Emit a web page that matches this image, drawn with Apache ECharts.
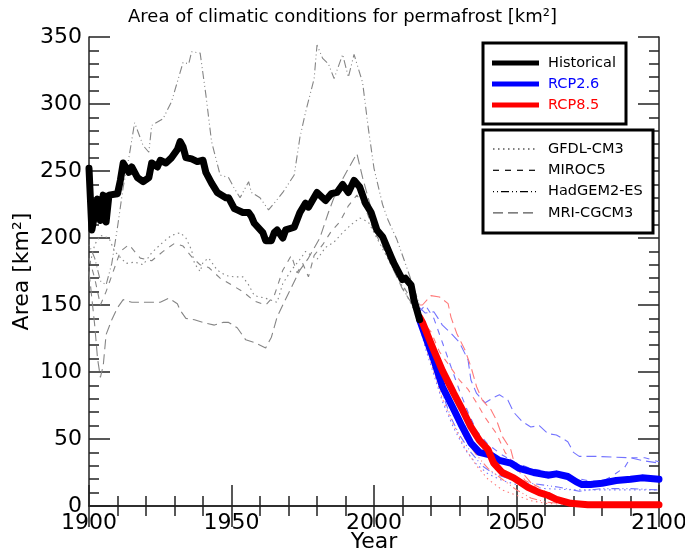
<!DOCTYPE html>
<html><head><meta charset="utf-8">
<script src="https://cdn.jsdelivr.net/npm/echarts@6/dist/echarts.min.js"></script>
<style>html,body{margin:0;padding:0;background:#fff}#c{width:685px;height:552px}</style>
</head><body><div id="c"></div>
<script>
// ---------- data ----------
const xTicks = [1900, 1950, 2000, 2050, 2100];
const yTicks = [0, 50, 100, 150, 200, 250, 300, 350];

const historical = [[1900,252],[1901,206],[1903,229],[1904,213],[1905,232],[1906,212],[1907,232],[1910,233],[1911,243],[1912,256],[1914,249],[1915,253],[1917,245],[1919,242],[1921,245],[1922,256],[1924,253],[1925,258],[1927,256],[1929,260],[1931,266],[1932,272],[1933,268],[1934,260],[1936,259],[1938,257],[1940,258],[1941,249],[1943,241],[1945,234],[1948,230],[1949,230],[1951,222],[1952,221],[1954,219],[1956,219],[1957,216],[1958,211],[1961,204],[1962,198],[1964,198],[1965,204],[1966,206],[1968,200],[1969,206],[1972,208],[1974,219],[1976,226],[1977,223],[1980,234],[1983,228],[1985,233],[1987,234],[1989,240],[1991,234],[1993,243],[1995,238],[1997,226],[1999,219],[2001,206],[2003,201],[2006,186],[2007,181],[2010,169],[2011,170],[2013,165],[2014,154],[2016,139]];
const rcp26 = [[2016,139],[2017,133],[2021,109],[2024,89],[2028,72],[2031,59],[2034,47],[2037,40],[2041,38],[2044,34],[2048,32],[2051,28],[2056,25],[2061,23],[2064,24],[2068,22],[2071,18],[2073,16],[2076,16],[2080,17],[2085,19],[2090,20],[2094,21],[2100,20]];
const rcp85 = [[2016,141],[2017,137],[2021,116],[2024,101],[2028,84],[2031,72],[2034,59],[2037,49],[2040,42],[2042,32],[2045,25],[2049,21],[2054,14],[2058,10],[2061,8],[2064,5],[2069,2],[2075,1],[2100,1]];

// model runs, historical period (grey)
const gfdlHist = [[1900,178],[1902,195],[1904,202],[1907,200],[1909,190],[1913,181],[1916,182],[1919,180],[1922,189],[1926,197],[1929,202],[1932,204],[1934,200],[1936,191],[1937,181],[1939,175],[1940,182],[1942,185],[1945,176],[1948,172],[1951,171],[1954,171],[1956,165],[1958,157],[1962,155],[1966,152],[1968,166],[1971,176],[1974,184],[1976,190],[1980,184],[1983,193],[1986,197],[1989,204],[1992,210],[1995,215],[1998,212],[2001,200],[2004,188],[2008,172],[2012,155],[2016,138]];
const mirocHist = [[1900,185],[1902,170],[1904,150],[1906,160],[1908,172],[1911,190],[1914,195],[1918,185],[1922,183],[1926,190],[1930,196],[1933,194],[1936,186],[1939,180],[1942,178],[1946,170],[1950,165],[1954,160],[1958,153],[1962,150],[1965,157],[1968,176],[1971,187],[1973,174],[1975,181],[1977,171],[1979,187],[1982,195],[1985,205],[1988,212],[1991,224],[1994,232],[1997,222],[2000,205],[2004,190],[2008,172],[2012,158],[2016,145]];
const hadgemHist = [[1900,195],[1902,185],[1904,168],[1906,165],[1908,181],[1910,208],[1912,238],[1914,260],[1916,286],[1919,269],[1921,264],[1922,284],[1926,289],[1929,302],[1933,331],[1935,330],[1936,339],[1939,338],[1941,307],[1943,272],[1946,247],[1949,245],[1951,237],[1953,230],[1956,242],[1957,234],[1960,230],[1963,221],[1965,226],[1968,234],[1972,247],[1974,275],[1976,294],[1979,319],[1980,344],[1982,334],[1984,330],[1986,319],[1989,337],[1991,320],[1993,337],[1996,316],[1998,282],[2000,252],[2003,225],[2005,213],[2008,199],[2011,181],[2016,150]];
const mriHist = [[1900,175],[1902,135],[1903,110],[1904,96],[1905,105],[1906,128],[1908,139],[1910,148],[1912,154],[1915,152],[1920,152],[1925,152],[1928,155],[1931,151],[1932,146],[1934,140],[1937,139],[1940,137],[1944,135],[1947,137],[1949,137],[1952,133],[1955,124],[1958,122],[1962,118],[1964,126],[1966,141],[1968,150],[1971,163],[1974,176],[1977,185],[1981,200],[1984,219],[1987,236],[1990,248],[1994,263],[1996,245],[1999,222],[2002,200],[2006,180],[2010,162],[2016,142]];

// model runs, RCP2.6 (light blue)
const gfdl26 = [[2016,135],[2018,118],[2021,98],[2024,78],[2028,58],[2032,42],[2036,31],[2040,24],[2045,19],[2050,16],[2060,13],[2070,12],[2080,12],[2090,12],[2100,12]];
const miroc26 = [[2016,145],[2018,150],[2021,140],[2024,122],[2027,104],[2030,86],[2033,70],[2036,56],[2040,46],[2045,38],[2050,32],[2055,28],[2060,26],[2065,23],[2070,21],[2075,19],[2080,18],[2084,23],[2088,29],[2090,36],[2095,36],[2100,33]];
const hadgem26 = [[2016,138],[2018,125],[2021,104],[2024,84],[2027,66],[2030,53],[2034,40],[2038,30],[2042,24],[2048,20],[2055,17],[2065,14],[2072,11],[2080,13],[2090,13],[2100,12]];
const mri26 = [[2016,148],[2018,144],[2021,145],[2024,135],[2027,129],[2030,122],[2033,109],[2034,94],[2036,84],[2039,77],[2042,81],[2044,83],[2047,79],[2049,70],[2052,63],[2055,59],[2058,60],[2061,54],[2064,53],[2068,48],[2070,40],[2072,37],[2078,37],[2090,36],[2094,34],[2100,32]];

// model runs, RCP8.5 (light red)
const gfdl85 = [[2016,136],[2018,120],[2021,100],[2024,80],[2028,60],[2032,43],[2036,30],[2040,20],[2045,12],[2050,8],[2055,4],[2060,2],[2070,1],[2100,1]];
const miroc85 = [[2016,140],[2020,130],[2023,115],[2027,103],[2030,94],[2033,87],[2036,77],[2039,66],[2043,54],[2046,40],[2050,29],[2053,19],[2058,14],[2062,8],[2068,3],[2075,1],[2100,1]];
const hadgem85 = [[2016,140],[2018,125],[2021,106],[2024,88],[2028,68],[2032,50],[2036,38],[2040,28],[2045,20],[2050,12],[2055,6],[2060,3],[2070,1],[2100,1]];
const mri85 = [[2016,150],[2017,150],[2020,157],[2023,156],[2026,151],[2027,141],[2029,129],[2032,116],[2034,104],[2036,89],[2038,79],[2041,72],[2043,64],[2045,52],[2048,42],[2049,34],[2052,25],[2056,15],[2060,8],[2065,3],[2070,1],[2100,1]];

// ---------- styling ----------
const FONT = 'DejaVu Sans';
const dash = {
  gfdl: [1.5, 3.5],
  miroc: [6, 6],
  hadgem: [1, 3, 1, 3, 8, 3],
  mri: [10, 5]
};
const GREY = '#858585', LBLUE = '#7373ff', LRED = '#ff7a7a';

function thin(data, color, type) {
  return { type: 'line', data, symbol: 'none', silent: true, animation: false,
    lineStyle: { color, width: 1.1, type } };
}
function thick(data, color) {
  return { type: 'line', data, symbol: 'none', silent: true, animation: false,
    lineStyle: { color, width: 7, join: 'round', cap: 'round' } };
}

const series = [
  thin(gfdlHist, GREY, dash.gfdl), thin(mirocHist, GREY, dash.miroc),
  thin(hadgemHist, GREY, dash.hadgem), thin(mriHist, GREY, dash.mri),
  thin(gfdl26, LBLUE, dash.gfdl), thin(miroc26, LBLUE, dash.miroc),
  thin(hadgem26, LBLUE, dash.hadgem), thin(mri26, LBLUE, dash.mri),
  thin(gfdl85, LRED, dash.gfdl), thin(miroc85, LRED, dash.miroc),
  thin(hadgem85, LRED, dash.hadgem), thin(mri85, LRED, dash.mri),
  thick(rcp26, '#0000ff'), thick(rcp85, '#ff0000'), thick(historical, '#000000')
];

const axisLine = { show: true, lineStyle: { color: '#222', width: 1.5 } };
const tick = { show: true, inside: true, length: 21, lineStyle: { color: '#222', width: 1.5 } };
const minor = { show: true, splitNumber: 5, length: 10, lineStyle: { color: '#222', width: 1.5 } };
const plain = v => String(v);
const xBase = { type: 'value', min: xTicks[0], max: xTicks[xTicks.length - 1], interval: xTicks[1] - xTicks[0],
  axisLine, axisTick: tick, minorTick: minor, splitLine: { show: false } };
const yBase = { type: 'value', min: yTicks[0], max: yTicks[yTicks.length - 1], interval: yTicks[1] - yTicks[0],
  axisLine, axisTick: tick, minorTick: minor, splitLine: { show: false } };

// legend layout
const leg1 = { x: 483, y: 43, w: 143, h: 81 };
const leg2 = { x: 483, y: 130, w: 170, h: 103 };
const legend1 = [['Historical', '#000000', '#000000'], ['RCP2.6', '#0000ff', '#0000ff'], ['RCP8.5', '#ff0000', '#ff0000']];
const legend2 = [['GFDL-CM3', dash.gfdl, '#000'], ['MIROC5', dash.miroc, '#000'], ['HadGEM2-ES', dash.hadgem, '#000'], ['MRI-CGCM3', dash.mri, '#555']];
const graphics = [];
graphics.push({ type: 'rect', z: 100, shape: { x: leg1.x, y: leg1.y, width: leg1.w, height: leg1.h }, style: { fill: '#fff', stroke: '#000', lineWidth: 3 } });
legend1.forEach((it, i) => {
  const y = 63 + i * 21;
  graphics.push({ type: 'line', z: 101, shape: { x1: 492, y1: y, x2: 539, y2: y }, style: { stroke: it[1], lineWidth: 5 } });
  graphics.push({ type: 'text', z: 101, x: 548, y: y, style: { text: it[0], fill: it[2], font: '14.5px "' + FONT + '"', verticalAlign: 'middle' } });
});
graphics.push({ type: 'rect', z: 100, shape: { x: leg2.x, y: leg2.y, width: leg2.w, height: leg2.h }, style: { fill: '#fff', stroke: '#000', lineWidth: 3 } });
legend2.forEach((it, i) => {
  const y = 149 + i * 21.3;
  graphics.push({ type: 'line', z: 101, shape: { x1: 493, y1: y, x2: 538, y2: y }, style: { stroke: it[2], lineWidth: 1.2, lineDash: it[1] } });
  graphics.push({ type: 'text', z: 101, x: 548, y: y, style: { text: it[0], fill: '#000', font: '14.5px "' + FONT + '"', verticalAlign: 'middle' } });
});

const chart = echarts.init(document.getElementById('c'), null, { renderer: 'canvas' });
chart.setOption({
  animation: false,
  backgroundColor: '#fff',
  title: { text: 'Area of climatic conditions for permafrost [km²]', left: 'center', top: 3,
    textStyle: { fontFamily: FONT, fontSize: 18, fontWeight: 'normal', color: '#000' } },
  grid: { left: 89, right: 26, top: 37, bottom: 46, containLabel: false, outerBoundsMode: 'none' },
  xAxis: [
    Object.assign({}, xBase, { position: 'bottom', name: 'Year', nameLocation: 'middle', nameGap: 25, nameMoveOverlap: false,
      nameTextStyle: { fontFamily: FONT, fontSize: 22, color: '#000' },
      axisLabel: { show: true, margin: 6, formatter: plain, fontFamily: FONT, fontSize: 22, color: '#000' } }),
    Object.assign({}, xBase, { position: 'top', axisLabel: { show: false } })
  ],
  yAxis: [
    Object.assign({}, yBase, { position: 'left', name: 'Area [km²]', nameLocation: 'middle', nameGap: 56, nameRotate: 90, nameMoveOverlap: false,
      nameTextStyle: { fontFamily: FONT, fontSize: 22, color: '#000' },
      axisLabel: { show: true, margin: 7, formatter: plain, fontFamily: FONT, fontSize: 22, color: '#000' } }),
    Object.assign({}, yBase, { position: 'right', axisLabel: { show: false } })
  ],
  series,
  graphic: graphics
});
</script></body></html>
